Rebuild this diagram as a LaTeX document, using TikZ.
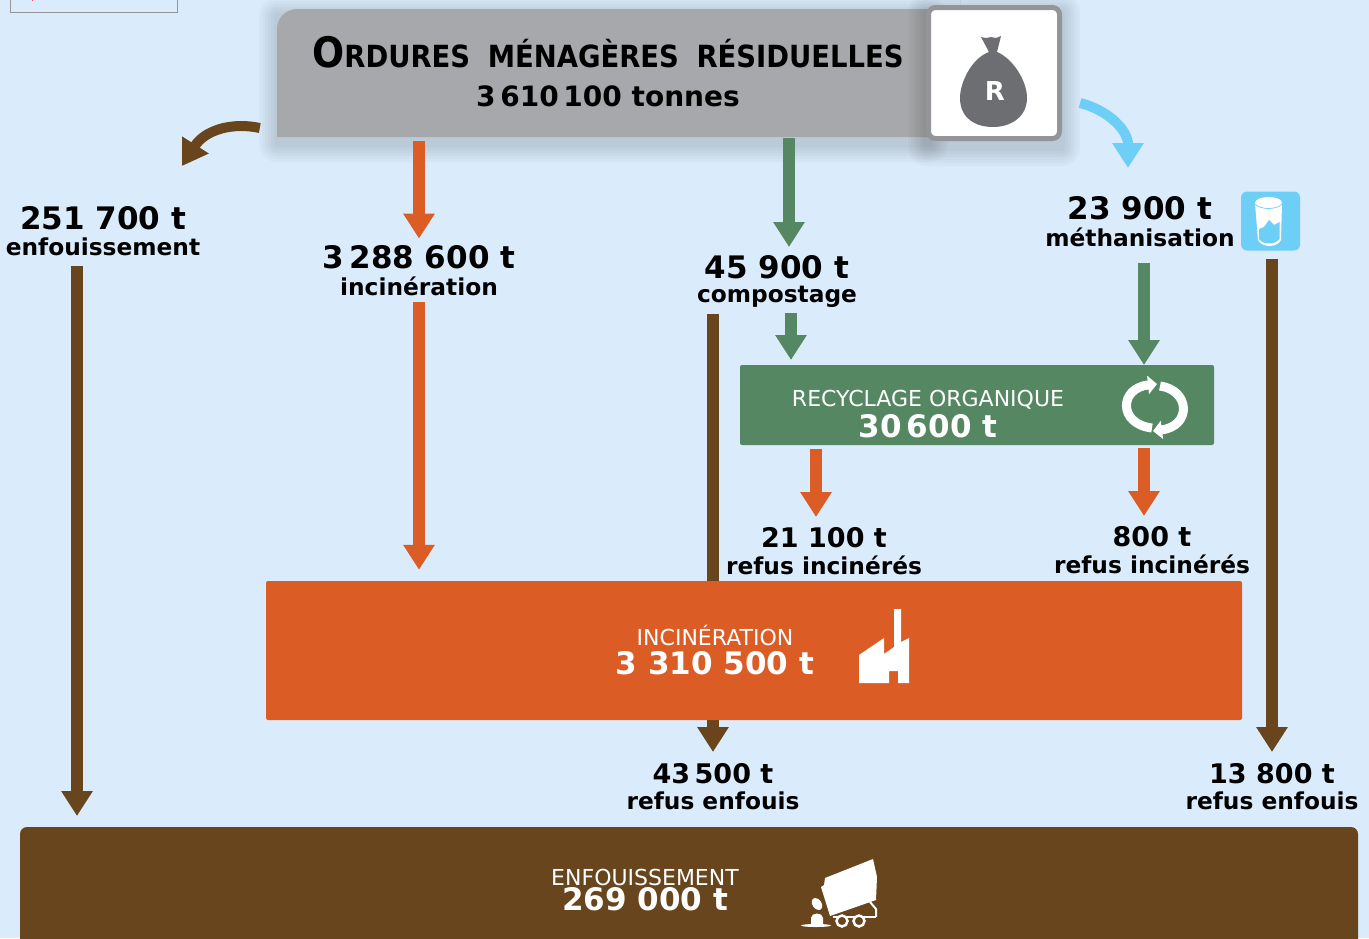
\documentclass[tikz,border=0pt]{standalone}
\usepackage{fontspec}
\usepackage{tikz}
\usetikzlibrary{arrows.meta}
\setmainfont{DejaVu Sans}
\newfontfamily\titlefont[FakeStretch=0.9]{DejaVu Sans}

\definecolor{sky}{HTML}{DAECFB}
\definecolor{ashgrey}{HTML}{A7A8AB}
\definecolor{framegrey}{HTML}{939598}
\definecolor{baggrey}{HTML}{6D6E71}
\definecolor{burnt}{HTML}{DC5C26}
\definecolor{leaf}{HTML}{558763}
\definecolor{soil}{HTML}{68451C}
\definecolor{biogas}{HTML}{6DCFF6}

\newcommand{\softshadow}[5]{\foreach \g in {18,15,12,9,6,3} {\fill[black,opacity=#5,rounded corners=\g pt] (#1-\g,#2-\g+7) rectangle (#3+\g,#4+\g+7);}}
\newcommand{\flowlabel}[3][31]{{\fontsize{#1}{#1}\selectfont\bfseries #2}\\[7pt]{\fontsize{23.3}{23.3}\selectfont\bfseries #3}}
\newcommand{\boxlabel}[3]{{\fontsize{22}{22}\selectfont #2}\\[#1]{\fontsize{31}{31}\selectfont\bfseries #3}}

\tikzset{
  flowtext/.style={align=center,inner sep=0pt,text=black},
  boxtext/.style={align=center,inner sep=0pt,text=white},
  flowbox/.style={inner sep=0pt,rounded corners=2pt},
  downarrow/.style={line width=12pt,-{Triangle[width=30pt,length=25pt]}},
  bentarrow/.style={line width=10pt,-{Triangle[width=30pt,length=25pt]}},
  cyclearrow/.style={white,line width=9pt,-{Triangle[width=18pt,length=9pt]}}
}

\begin{document}
\begin{tikzpicture}[x=1pt,y=-1pt]
\clip (0,0) rectangle (1369,938);
\fill[sky] (0,0) rectangle (1369,938);

% leftover frame at the top
\draw[framegrey,line width=1pt] (10,-3) rectangle (177,12);
\fill[red!70] (32,0) rectangle (33,1);

% text
\node[flowtext] (lblenf) at (103,231.5) {\flowlabel{251 700 t}{enfouissement}};
\node[flowtext] (lblinci) at (419,270.5) {\flowlabel{3\,288 600 t}{incinération}};
\node[flowtext] (lblcomp) at (777,281.5) {\flowlabel{45 900 t}{compostage}};
\node[flowtext] (lblmeth) at (1140,221.5) {\flowlabel{23 900 t}{méthanisation}};
\node[flowtext] (lblrefa) at (824,551) {\flowlabel[27]{21 100 t}{refus incinérés}};
\node[flowtext] (lblrefb) at (1152,550) {\flowlabel[27]{800 t}{refus incinérés}};
\node[flowtext] (lblrefc) at (713,786.5) {\flowlabel[27]{43\,500 t}{refus enfouis}};
\node[flowtext] (lblrefd) at (1272,786.5) {\flowlabel[27]{13 800 t}{refus enfouis}};

% boxes
\softshadow{277}{9}{930}{137}{0.025}
\fill[ashgrey,rounded corners=20pt] (277,137) -- (277,9) -- (960,9) -- (960,20) [sharp corners] -- (960,137) -- cycle;
\node[inner sep=0pt,minimum width=653pt,minimum height=128pt] (ordures) at (603.5,73) {};
\softshadow{926}{5}{1062}{141}{0.025}
\node[flowbox,fill=white,draw=framegrey,line width=5pt,rounded corners=7pt,minimum width=131pt,minimum height=131pt] (sac) at (994,73) {};
\node[flowbox,fill=biogas,rounded corners=6pt,minimum width=59pt,minimum height=59pt] (verre) at (1270.5,221) {};

% brown arrows, the middle one passes behind the furnace
\coordinate (tipenf) at (77,816);
\coordinate (tipcomp) at (713,752);
\coordinate (tipmeth) at (1272,752);
\draw[soil,downarrow] (lblenf.south -| tipenf) ++(0,10) -- (tipenf);
\draw[soil,downarrow] (lblcomp.south -| tipcomp) ++(0,6) -- (tipcomp);
\draw[soil,downarrow] (verre.south -| tipmeth) ++(0,8) -- (tipmeth);

\node[flowbox,fill=leaf,minimum width=474pt,minimum height=80pt] (recyclage) at (977,405) {};
\node[flowbox,fill=burnt,minimum width=976pt,minimum height=139pt] (furnace) at (754,650.5) {};
\node[flowbox,fill=soil,rounded corners=7pt,minimum width=1338pt,minimum height=135pt] (enfouis) at (689,894.5) {};

% box titles
\node[inner sep=0pt,text=black] (titre) at (608,52) {\titlefont\bfseries{\fontsize{42}{42}\selectfont O}{\fontsize{30.5}{30.5}\selectfont RDURES\hspace{8pt} MÉNAGÈRES\hspace{8pt} RÉSIDUELLES}};
\node[inner sep=0pt,text=black] (total) at (608,96) {\fontsize{28}{28}\selectfont\bfseries 3\,610\,100 tonnes};
\node[boxtext] (txtrecy) at (928,414) {\boxlabel{4pt}{RECYCLAGE ORGANIQUE}{30\,600 t}};
\node[boxtext] (txtinci) at (715,650) {\boxlabel{4pt}{INCINÉRATION}{3 310 500 t}};
\node[boxtext] (txtenf) at (645,890) {\boxlabel{0pt}{ENFOUISSEMENT}{269 000 t}};

% orange and green arrows
\draw[burnt,downarrow] (ordures.south -| lblinci) ++(0,4) -- ([yshift=6.5pt]lblinci.north);
\draw[burnt,downarrow] (lblinci.south) ++(0,6) -- ([yshift=11pt]furnace.north -| lblinci);
\coordinate (tipbac) at (789,247);
\draw[leaf,downarrow] (ordures.south -| tipbac) ++(0,1) -- (tipbac);
\coordinate (tiprecy) at (791,360);
\coordinate (tipmetha) at (1144,365);
\draw[leaf,downarrow] (lblcomp.south -| tiprecy) ++(0,5) -- (tiprecy);
\draw[leaf,downarrow] (lblmeth.south -| tipmetha) ++(0,16) -- (tipmetha);
\coordinate (tiprefa) at (816,517);
\coordinate (tiprefb) at (1144,516);
\draw[burnt,downarrow] (recyclage.south -| tiprefa) ++(0,4) -- (tiprefa);
\draw[burnt,downarrow] (recyclage.south -| tiprefb) ++(0,3) -- (tiprefb);

% the two bent arrows
\coordinate (tipgauche) at (182,166);
\coordinate (tipdroite) at (1128,168);
\draw[soil,bentarrow] (ordures.west) ++(-17,55) .. controls (232,122) and (205,130) .. (tipgauche);
\draw[biogas,bentarrow] (sac.east) ++(18,30) .. controls (1108,110) and (1128,130) .. (tipdroite);

% bag
\fill[baggrey] (989,52) .. controls (972,58) and (960,82) .. (960,98)
  .. controls (960,118) and (975,127) .. (993,127)
  .. controls (1012,127) and (1027,116) .. (1027,98)
  .. controls (1027,80) and (1012,58) .. (997,52) -- (1001,36) -- (996,38) -- (991,37) -- (986,38) -- (981,37) -- cycle;
\node[inner sep=0pt,text=white] (lettre) at (995,91) {\fontsize{26}{26}\selectfont\bfseries R};

% glass
\fill[white] (1255,203) -- (1258,240) .. controls (1262,248) and (1277,248) .. (1281,240) -- (1282,203)
  .. controls (1282,195) and (1255,195) .. (1255,203) -- cycle;
\draw[biogas,line width=0.7pt] (1255,204) .. controls (1260,210) and (1277,210) .. (1282,204);
\fill[biogas] (1259,239) -- (1259,229) -- (1264,227) -- (1269,220) -- (1274,225) -- (1279.5,222) -- (1279.5,239)
  .. controls (1275,245) and (1263,245) .. (1259,239) -- cycle;

% recycling loop
\draw[cyclearrow] (1152,428) .. controls (1118,424) and (1119,388) .. (1157,384);
\draw[cyclearrow] (1160,386) .. controls (1190,390) and (1192,426) .. (1153,431);

% factory
\fill[white] (859,683) -- (859,655) -- (884,638) -- (884,654) -- (894,647) -- (894,609) -- (901,609) -- (901,642) -- (909,638) -- (909,683) -- (898,683) -- (898,671) -- (889,671) -- (889,683) -- cycle;

% truck
\fill[white] (825,878) -- (873,859) -- (877,877) -- (876,900) -- (830,916) -- (821,887) -- (824,885) -- cycle;
\draw[white,line width=2.5pt] (833,917) -- (876,917);
\draw[white,line width=2pt] (870,902) -- (876,909) -- (876,917);
\draw[white,line width=2.5pt,fill=soil] (842,921) circle (5.5);
\draw[white,line width=2.5pt,fill=soil] (859,921) circle (5.5);
\fill[white,rotate around={35:(817,904)}] (817,904) ellipse (4.5 and 6.5);
\fill[white] (811,925) -- (811,918) .. controls (811,912) and (823,912) .. (823,918) -- (823,925) -- cycle;
\fill[white] (816,925.5) ellipse (15 and 1.5);

\end{tikzpicture}
\end{document}
